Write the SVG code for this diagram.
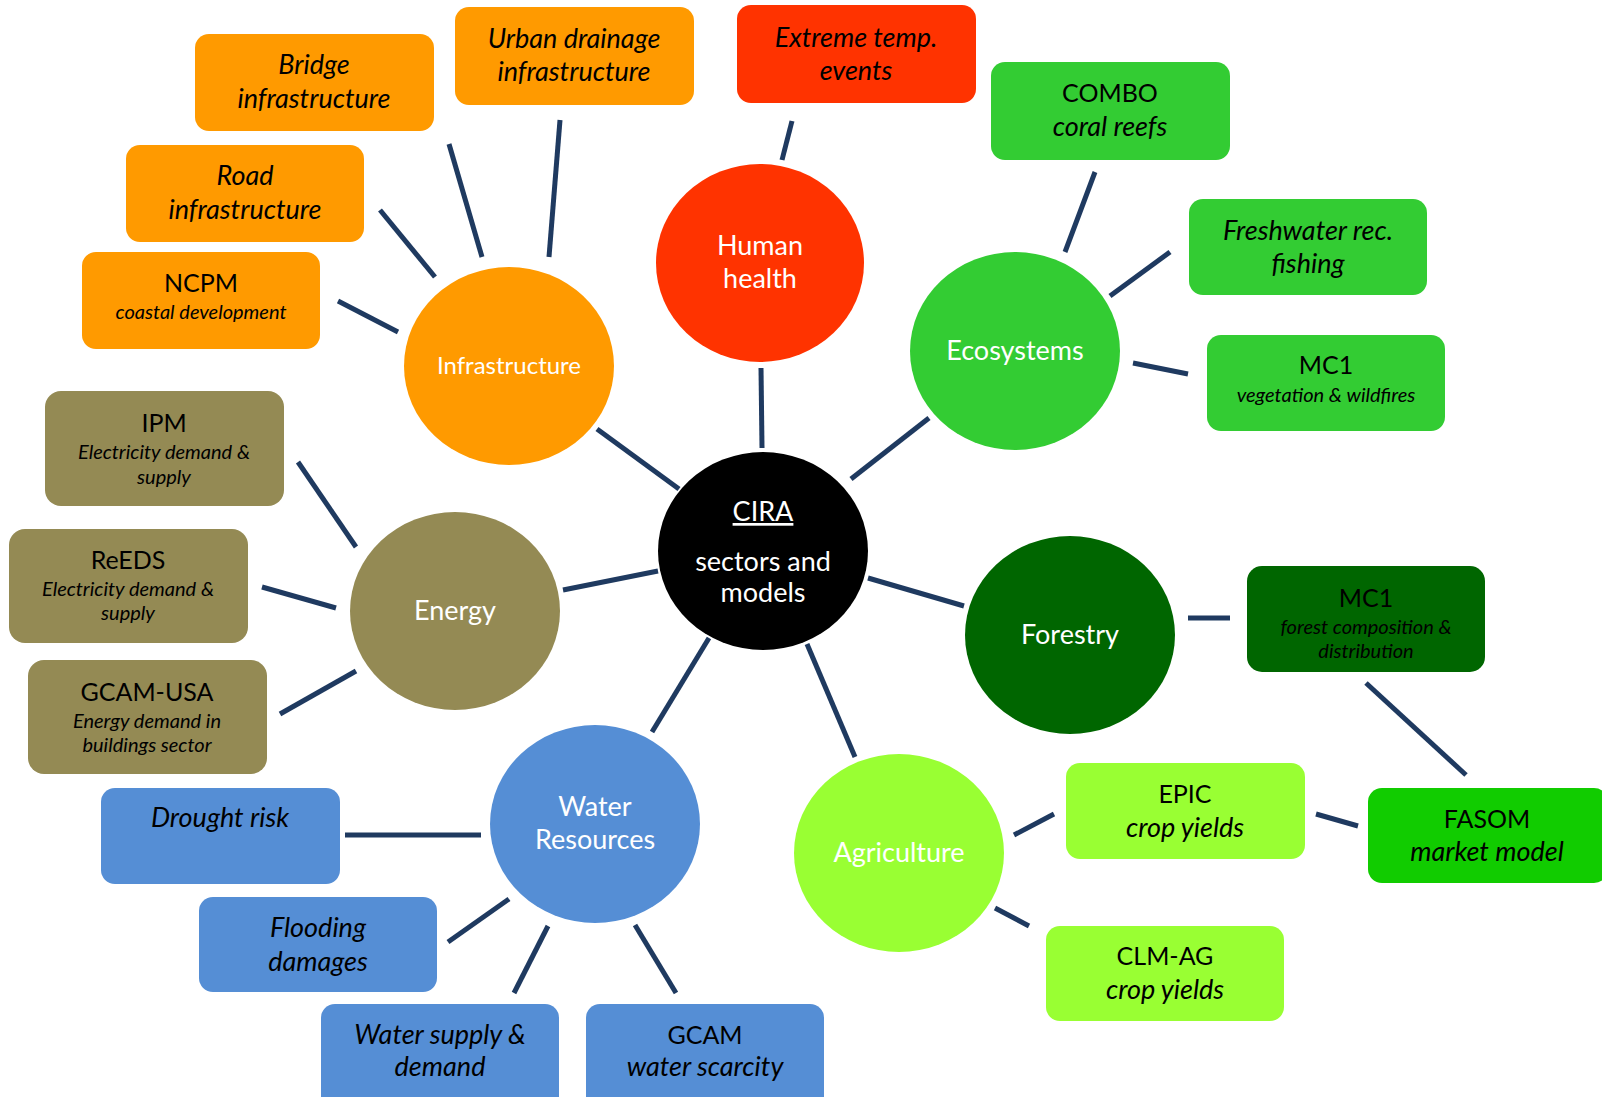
<svg xmlns="http://www.w3.org/2000/svg" width="1602" height="1097" viewBox="0 0 1602 1097">
<style>
.box{stroke:none}
.t{font-family:Lato,"Open Sans","Liberation Sans",sans-serif;text-anchor:middle;fill:#000}
.m{font-size:25px}
.i{font-size:27px;font-style:italic}
.s{font-size:20px;font-style:italic}
.w{fill:#fff;font-size:27px}
.conn line{stroke:#1F3A60;stroke-width:5}
.or{fill:#FF9A00}.rd{fill:#FF3300}.gr{fill:#33CC33}.dg{fill:#006600}.lg{fill:#99FF33}.fa{fill:#11CC00}.ol{fill:#948A54}.bl{fill:#558ED5}
</style>
<rect width="1602" height="1097" fill="#fff"/>
<g class="conn">
<line x1="449" y1="144" x2="482" y2="257"/>
<line x1="560" y1="120" x2="549" y2="257"/>
<line x1="380" y1="210" x2="435" y2="277"/>
<line x1="338" y1="301" x2="398" y2="332"/>
<line x1="792" y1="121" x2="782" y2="160"/>
<line x1="761" y1="368" x2="762" y2="448"/>
<line x1="597" y1="429" x2="679" y2="489"/>
<line x1="1095" y1="172" x2="1065" y2="252"/>
<line x1="1170" y1="252" x2="1110" y2="296"/>
<line x1="1133" y1="363" x2="1188" y2="374"/>
<line x1="929" y1="418" x2="851" y2="479"/>
<line x1="298" y1="462" x2="356" y2="547"/>
<line x1="262" y1="587" x2="336" y2="608"/>
<line x1="280" y1="714" x2="356" y2="671"/>
<line x1="563" y1="590" x2="658" y2="571"/>
<line x1="868" y1="578" x2="964" y2="606"/>
<line x1="1188" y1="618" x2="1230" y2="618"/>
<line x1="1366" y1="683" x2="1466" y2="775"/>
<line x1="807" y1="644" x2="855" y2="757"/>
<line x1="1014" y1="835" x2="1054" y2="814"/>
<line x1="1316" y1="814" x2="1358" y2="826"/>
<line x1="995" y1="908" x2="1029" y2="926"/>
<line x1="709" y1="638" x2="652" y2="732"/>
<line x1="345" y1="835" x2="481" y2="835"/>
<line x1="509" y1="899" x2="448" y2="942"/>
<line x1="548" y1="926" x2="514" y2="993"/>
<line x1="635" y1="925" x2="676" y2="993"/>
</g>

<g id="bridge"><rect class="or" x="195" y="34" width="239" height="97" rx="14"/>
<text class="t i" x="314" y="74">Bridge</text><text class="t i" x="314" y="108">infrastructure</text></g>
<g id="urban"><rect class="or" x="455" y="7" width="239" height="98" rx="14"/>
<text class="t i" x="574" y="48">Urban drainage</text><text class="t i" x="574" y="81">infrastructure</text></g>
<g id="road"><rect class="or" x="126" y="145" width="238" height="97" rx="14"/>
<text class="t i" x="245" y="185">Road</text><text class="t i" x="245" y="219">infrastructure</text></g>
<g id="ncpm"><rect class="or" x="82" y="252" width="238" height="97" rx="14"/>
<text class="t m" x="201" y="292">NCPM</text><text class="t s" x="201" y="319">coastal development</text></g>
<g id="extreme"><rect class="rd" x="737" y="5" width="239" height="98" rx="14"/>
<text class="t i" x="856" y="47">Extreme temp.</text><text class="t i" x="856" y="80">events</text></g>
<g id="combo"><rect class="gr" x="991" y="62" width="239" height="98" rx="14"/>
<text class="t m" x="1110" y="102">COMBO</text><text class="t i" x="1110" y="136">coral reefs</text></g>
<g id="fresh"><rect class="gr" x="1189" y="199" width="238" height="96" rx="14"/>
<text class="t i" x="1308" y="240">Freshwater rec.</text><text class="t i" x="1308" y="273">fishing</text></g>
<g id="mc1veg"><rect class="gr" x="1207" y="335" width="238" height="96" rx="14"/>
<text class="t m" x="1326" y="374">MC1</text><text class="t s" x="1326" y="402">vegetation &amp; wildfires</text></g>
<g id="ipm"><rect class="ol" x="45" y="391" width="239" height="115" rx="16"/>
<text class="t m" x="164" y="432">IPM</text><text class="t s" x="164" y="459">Electricity demand &amp;</text><text class="t s" x="164" y="484">supply</text></g>
<g id="reeds"><rect class="ol" x="9" y="529" width="239" height="114" rx="16"/>
<text class="t m" x="128" y="569">ReEDS</text><text class="t s" x="128" y="596">Electricity demand &amp;</text><text class="t s" x="128" y="620">supply</text></g>
<g id="gcamusa"><rect class="ol" x="28" y="660" width="239" height="114" rx="16"/>
<text class="t m" x="147" y="701">GCAM-USA</text><text class="t s" x="147" y="728">Energy demand in</text><text class="t s" x="147" y="752">buildings sector</text></g>
<g id="mc1forest"><rect class="dg" x="1247" y="566" width="238" height="106" rx="15"/>
<text class="t m" x="1366" y="607">MC1</text><text class="t s" x="1366" y="634">forest composition &amp;</text><text class="t s" x="1366" y="658">distribution</text></g>
<g id="epic"><rect class="lg" x="1066" y="763" width="239" height="96" rx="14"/>
<text class="t m" x="1185" y="803">EPIC</text><text class="t i" x="1185" y="837">crop yields</text></g>
<g id="fasom"><rect class="fa" x="1368" y="788" width="240" height="95" rx="14"/>
<text class="t m" x="1487" y="828">FASOM</text><text class="t i" x="1487" y="861">market model</text></g>
<g id="clm"><rect class="lg" x="1046" y="926" width="238" height="95" rx="14"/>
<text class="t m" x="1165" y="965">CLM-AG</text><text class="t i" x="1165" y="999">crop yields</text></g>
<g id="drought"><rect class="bl" x="101" y="788" width="239" height="96" rx="14"/>
<text class="t i" x="220" y="827">Drought risk</text></g>
<g id="flooding"><rect class="bl" x="199" y="897" width="238" height="95" rx="14"/>
<text class="t i" x="318" y="937">Flooding</text><text class="t i" x="318" y="971">damages</text></g>
<g id="watersupply"><rect class="bl" x="321" y="1004" width="238" height="110" rx="14"/>
<text class="t i" x="440" y="1044">Water supply &amp;</text><text class="t i" x="440" y="1076">demand</text></g>
<g id="gcam"><rect class="bl" x="586" y="1004" width="238" height="110" rx="14"/>
<text class="t m" x="705" y="1044">GCAM</text><text class="t i" x="705" y="1076">water scarcity</text></g>

<g id="infrastructure"><ellipse class="or" cx="509" cy="366" rx="105" ry="99"/>
<text class="t w" x="509" y="374" style="font-size:24px">Infrastructure</text></g>
<g id="human"><ellipse class="rd" cx="760" cy="263" rx="104" ry="99"/>
<text class="t w" x="760" y="255">Human</text><text class="t w" x="760" y="288">health</text></g>
<g id="ecosystems"><ellipse class="gr" cx="1015" cy="351" rx="105" ry="99"/>
<text class="t w" x="1015" y="360">Ecosystems</text></g>
<g id="center"><ellipse fill="#000" cx="763" cy="551" rx="105" ry="99"/>
<text class="t w" x="763" y="521" text-decoration="underline">CIRA</text><text class="t w" x="763" y="571">sectors and</text><text class="t w" x="763" y="602">models</text></g>
<g id="energy"><ellipse class="ol" cx="455" cy="611" rx="105" ry="99"/>
<text class="t w" x="455" y="620">Energy</text></g>
<g id="forestry"><ellipse class="dg" cx="1070" cy="635" rx="105" ry="99"/>
<text class="t w" x="1070" y="644">Forestry</text></g>
<g id="agriculture"><ellipse class="lg" cx="899" cy="853" rx="105" ry="99"/>
<text class="t w" x="899" y="862">Agriculture</text></g>
<g id="water"><ellipse class="bl" cx="595" cy="824" rx="105" ry="99"/>
<text class="t w" x="595" y="816">Water</text><text class="t w" x="595" y="849">Resources</text></g>
</svg>
